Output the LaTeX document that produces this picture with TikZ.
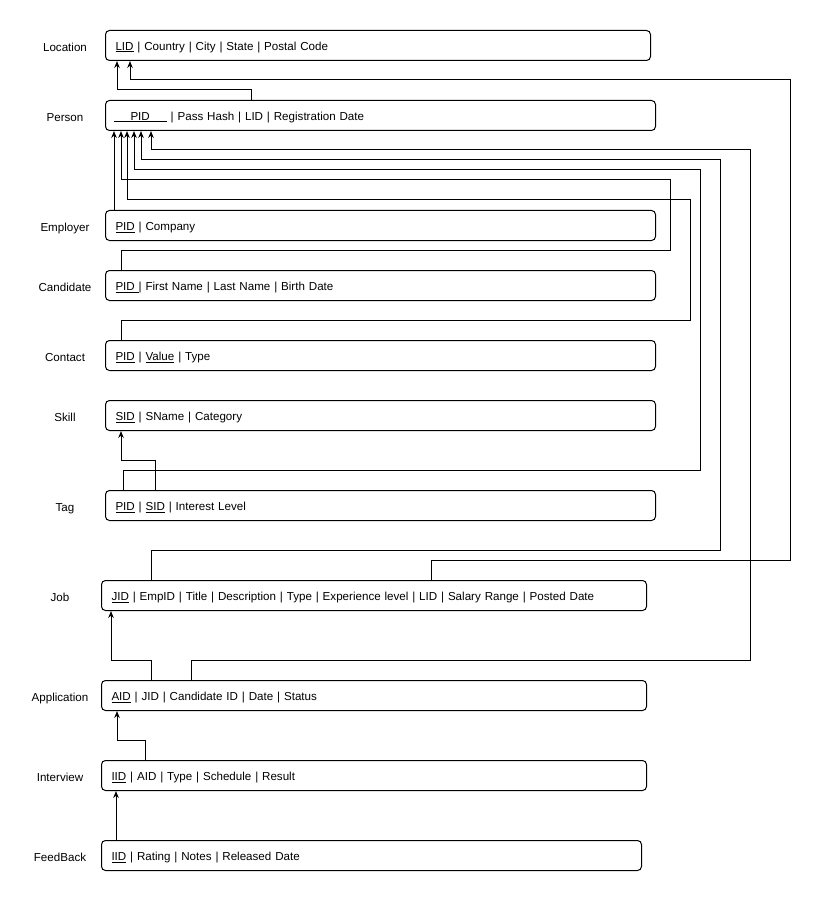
\documentclass[tikz,border=0pt]{standalone}
\usepackage{fontspec}
\setmainfont{Liberation Sans}
\usetikzlibrary{arrows.meta}
\begin{document}
\begin{tikzpicture}[x=1pt,y=-1pt,
  tbl/.style={draw, rounded corners=4pt, line width=1pt, minimum height=30pt, inner ysep=0pt, inner xsep=10pt, align=left, anchor=north west, text height=11pt, text depth=1.4pt, font=\fontsize{11.6}{14}\selectfont},
  lbl/.style={font=\fontsize{11.6}{14}\selectfont, anchor=center, text height=11pt, text depth=1.4pt, inner ysep=0pt, yshift=-1.5pt},
  fk/.style={line width=1pt, -{Stealth[length=7pt,width=5.5pt]}}
]
\useasboundingbox[fill=white] (0,0) rectangle (829,901);

% tables
\node[tbl, text width=525pt] (loc) at (105,30) {\underline{LID} | Country | City | State | Postal Code};
\node[tbl, text width=534pt, inner xsep=8pt] (per) at (105,100) {\underline{\hspace{17pt}PID\hspace{17pt}} | Pass Hash | LID | Registration Date};
\node[tbl, text width=530pt] (emp) at (105,210) {\underline{PID} | Company};
\node[tbl, text width=530pt] (cand) at (105,270) {\underline{PID }| First Name | Last Name | Birth Date};
\node[tbl, text width=530pt] (cont) at (105,340) {\underline{PID} | \underline{Value} | Type};
\node[tbl, text width=530pt] (skill) at (105,400) {\underline{SID} | SName | Category};
\node[tbl, text width=530pt] (tag) at (105,490) {\underline{PID} | \underline{SID} | Interest Level};
\node[tbl, text width=525pt] (job) at (101,580) {\underline{JID} | EmpID | Title | Description | Type | Experience level | LID | Salary Range | Posted Date};
\node[tbl, text width=525pt] (app) at (101,680) {\underline{AID} | JID | Candidate ID | Date | Status};
\node[tbl, text width=525pt] (int) at (101,760) {\underline{IID} | AID | Type | Schedule | Result};
\node[tbl, text width=520pt] (fb) at (101,840) {\underline{IID} | Rating | Notes | Released Date};

% labels
\node[lbl] (lloc) at (65,45) {Location};
\node[lbl] (lper) at (65,115) {Person};
\node[lbl] (lemp) at (65,225) {Employer};
\node[lbl] (lcand) at (65,285) {Candidate};
\node[lbl] (lcont) at (65,355) {Contact};
\node[lbl] (lskill) at (65,415) {Skill};
\node[lbl] (ltag) at (65,505) {Tag};
\node[lbl] (ljob) at (60,595) {Job};
\node[lbl] (lapp) at (60,695) {Application};
\node[lbl] (lint) at (60,775) {Interview};
\node[lbl] (lfb) at (60,855) {FeedBack};

% connectors
\draw[fk] (per.north -| 251,0) -- (251,90) -- (117,90) -- (loc.south -| 117,0);
\draw[fk] (job.north -| 431,0) -- (431,560) -- (790,560) -- (790,80) -- (130,80) -- (loc.south -| 130,0);
\draw[fk] (emp.north -| 114,0) -- (per.south -| 114,0);
\draw[fk] (cand.north -| 121,0) -- (121,250) -- (670,250) -- (670,180) -- (121,180) -- (per.south -| 121,0);
\draw[fk] (cont.north -| 121,0) -- (121,320) -- (690,320) -- (690,200) -- (127,200) -- (per.south -| 127,0);
\draw[fk] (tag.north -| 123,0) -- (123,470) -- (700,470) -- (700,170) -- (134,170) -- (per.south -| 134,0);
\draw[fk] (tag.north -| 155,0) -- (155,460) -- (121,460) -- (skill.south -| 121,0);
\draw[fk] (job.north -| 151,0) -- (151,550) -- (720,550) -- (720,160) -- (141,160) -- (per.south -| 141,0);
\draw[fk] (app.north -| 151,0) -- (151,660) -- (111,660) -- (job.south -| 111,0);
\draw[fk] (app.north -| 191,0) -- (191,660) -- (750,660) -- (750,150) -- (151,150) -- (per.south -| 151,0);
\draw[fk] (int.north -| 145,0) -- (145,740) -- (117,740) -- (app.south -| 117,0);
\draw[fk] (fb.north -| 116,0) -- (int.south -| 116,0);
\end{tikzpicture}
\end{document}
